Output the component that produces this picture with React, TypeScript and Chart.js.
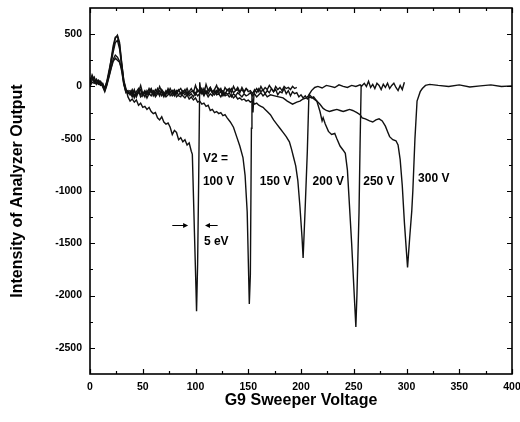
import React, { useEffect, useRef } from "react";
import { Chart, registerables } from "chart.js";

Chart.register(...registerables);

const FONT = '"Liberation Sans", Arial, Helvetica, sans-serif';

// axis ticks
const xTickValues = [0, 50, 100, 150, 200, 250, 300, 350, 400];
const xMinorTicks = [25, 75, 125, 175, 225, 275, 325, 375];
const yTickValues = [500, 0, -500, -1000, -1500, -2000, -2500];
const yMinorTicks = [250, -250, -750, -1250, -1750, -2250];

// series: [G9 sweeper voltage, intensity]
const v100: number[][] = [
  [0, 30], [2, 110], [4, 60], [6, 40], [8, 20], [10, 30], [12, 0], [14, -40], [16, 20], [18, 120],
  [20, 260], [22, 390], [24, 470], [26, 480], [28, 400], [30, 220], [32, 60], [34, -20], [36, -100],
  [38, -140], [40, -120], [42, -150], [44, -130], [46, -180], [48, -160], [50, -200], [52, -190],
  [54, -220], [56, -200], [58, -240], [60, -260], [62, -250], [64, -300], [66, -320], [68, -290],
  [70, -340], [72, -360], [74, -350], [76, -390], [78, -460], [80, -420], [82, -440], [84, -510],
  [86, -490], [88, -530], [90, -510], [92, -560], [94, -540], [96, -620], [97, -650], [99, -1400],
  [100.5, -1950], [101, -2150], [102, -1700], [103, -900], [104, 40], [105, -40], [106, -20],
  [108, -70], [110, 20], [112, -40], [114, -10], [116, -60], [118, -30], [120, 10], [122, -50],
  [124, -20], [126, -70], [128, -10], [130, -40], [132, -20], [134, -60], [136, 0], [138, -40],
  [140, -30], [142, -60], [144, -10], [146, -50], [148, -20], [150, -40],
];

const v150: number[][] = [
  [0, 50], [2, 80], [4, 40], [6, 60], [8, 30], [10, 10], [12, 20], [14, -30], [16, 30], [18, 100],
  [20, 180], [22, 260], [24, 300], [26, 280], [28, 240], [30, 150], [32, 20], [34, -50], [36, -60],
  [38, -70], [40, -30], [42, -90], [44, -50], [46, -20], [48, -80], [50, -60], [52, -100], [54, -40],
  [56, -70], [58, -30], [60, -90], [62, -60], [64, -20], [66, -80], [68, -50], [70, -100], [72, -60],
  [74, -40], [76, -90], [78, -70], [80, -50], [82, -100], [84, -80], [86, -60], [88, -90], [90, -110],
  [92, -80], [94, -120], [96, -100], [98, -130], [100, -110], [102, -150], [104, -140], [106, -170],
  [108, -160], [110, -190], [112, -180], [114, -230], [116, -220], [118, -250], [120, -240],
  [122, -260], [124, -250], [126, -280], [128, -270], [130, -300], [133, -340], [136, -390],
  [139, -480], [142, -570], [145, -680], [147, -850], [149, -1200], [151, -2080], [152, -1800],
  [153, -400], [153.5, -80], [154.5, -250], [155.5, -60], [158, -20], [160, -50], [162, 0],
  [164, -40], [166, -10], [168, -30], [170, 10], [172, -20], [174, -50], [176, 0], [178, -30],
  [180, -10], [182, -40], [184, 0], [186, -20], [188, -10], [190, -30], [192, 0], [194, -20], [196, -10],
];

const v200: number[][] = [
  [0, 20], [2, 60], [4, 90], [6, 30], [8, 50], [10, 20], [12, 30], [14, -20], [16, 40], [18, 130],
  [20, 220], [22, 330], [24, 420], [26, 440], [28, 360], [30, 200], [32, 40], [34, -40], [36, -70],
  [38, -60], [40, -100], [42, -40], [44, -80], [46, -60], [48, -30], [50, -90], [52, -50], [54, -70],
  [56, -20], [58, -60], [60, -40], [62, -80], [64, -50], [66, -90], [68, -30], [70, -60], [72, -80],
  [74, -20], [76, -60], [78, -40], [80, -90], [82, -50], [84, -30], [86, -70], [88, -40], [90, -60],
  [92, -20], [94, -70], [96, -50], [98, -40], [100, -80], [102, -30], [104, -60], [106, -50],
  [108, -90], [110, -40], [112, -70], [114, -30], [116, -60], [118, -80], [120, -40], [122, -70],
  [124, -50], [126, -90], [128, -60], [130, -70], [132, -100], [134, -80], [136, -110], [138, -90],
  [140, -120], [142, -110], [144, -130], [146, -120], [148, -140], [150, -130], [152, -150],
  [154, -140], [156, -170], [158, -160], [160, -180], [162, -190], [164, -200], [166, -220],
  [168, -240], [171, -270], [174, -320], [177, -360], [180, -400], [183, -440], [186, -480],
  [189, -530], [191, -600], [193, -680], [195, -760], [197, -900], [199, -1150], [201, -1450],
  [202, -1640], [204, -1150], [206, -620], [207.5, -80], [210, -40], [213, -10], [216, 0],
  [220, -15], [224, 10], [228, 0], [232, -10], [236, 15], [240, 0], [244, -10], [248, 10],
  [252, 0], [256, 15], [258, 0],
];

const v250: number[][] = [
  [0, 0], [2, 40], [4, 30], [6, 70], [8, 40], [10, 50], [12, 10], [14, -10], [16, 50], [18, 150],
  [20, 250], [22, 360], [24, 460], [26, 490], [28, 420], [30, 230], [32, 50], [34, -30], [36, -50],
  [38, -40], [40, -80], [42, -30], [44, -100], [46, -50], [48, 10], [50, -70], [52, -40], [54, -80],
  [56, -50], [58, -20], [60, -70], [62, -30], [64, -60], [66, 0], [68, -50], [70, -80], [72, -40],
  [74, -70], [76, -20], [78, -60], [80, -30], [82, -70], [84, -40], [86, -20], [88, -60], [90, -30],
  [92, -80], [94, -50], [96, -20], [98, -60], [100, 10], [102, -50], [104, -30], [106, -70],
  [108, -20], [110, -60], [112, -40], [114, -10], [116, -50], [118, -30], [120, -70], [122, -20],
  [124, -50], [126, -40], [128, -80], [130, -30], [132, -50], [134, -20], [136, -60], [138, -40],
  [140, -10], [142, -50], [144, -30], [146, -60], [148, -20], [150, -50], [152, -40], [154, -70],
  [156, -30], [158, -60], [160, -20], [162, -50], [164, -30], [166, -70], [168, -40], [170, -60],
  [172, -20], [174, -50], [176, -30], [178, -80], [180, -50], [182, -60], [184, -20], [186, -70],
  [188, -40], [190, -90], [192, -50], [194, -70], [196, -60], [198, -100], [200, -80], [202, -110],
  [204, -90], [206, -120], [208, -100], [210, -110], [212, -100], [215, -140], [218, -240],
  [220, -330], [221, -300], [223, -360], [226, -430], [229, -460], [232, -450], [234, -500],
  [237, -570], [240, -610], [242, -640], [244, -800], [248, -1500], [251, -2100], [252, -2300],
  [253, -2000], [255, -1200], [256, -550], [257, 0], [258, 10], [260, 30], [262, 0], [264, 50],
  [266, -10], [268, 20], [270, -20], [272, 30], [274, 10], [276, -30], [278, 20], [280, -10],
  [282, 30], [284, -20], [286, 10], [288, 30], [290, -10], [292, -40], [294, 10], [296, -30], [298, 40],
];

const v300: number[][] = [
  [0, 60], [2, 100], [4, 50], [6, 20], [8, 60], [10, 40], [12, 0], [14, -50], [16, 10], [18, 90],
  [20, 170], [22, 240], [24, 270], [26, 250], [28, 230], [30, 170], [32, 30], [34, -60], [36, -40],
  [38, -80], [40, -50], [42, -110], [44, -70], [46, -40], [48, -100], [50, -80], [52, -60], [54, -110],
  [56, -70], [58, -90], [60, -50], [62, -100], [64, -70], [66, -40], [68, -90], [70, -60], [72, -100],
  [74, -80], [76, -50], [78, -90], [80, -70], [82, -40], [84, -90], [86, -100], [88, -60], [90, -80],
  [92, -50], [94, -90], [96, -70], [98, -100], [100, -60], [102, -90], [104, -70], [106, -40],
  [108, -80], [110, -60], [112, -100], [114, -70], [116, -90], [118, -50], [120, -80], [122, -70],
  [124, -100], [126, -60], [128, -90], [130, -80], [132, -60], [134, -100], [136, -70], [138, -90],
  [140, -60], [142, -80], [144, -100], [146, -70], [148, -90], [150, -80], [152, -60], [154, -90],
  [156, -70], [158, -100], [160, -80], [162, -60], [164, -90], [166, -70], [168, -100], [171, -80],
  [175, -90], [179, -100], [183, -110], [187, -140], [192, -170], [196, -150], [199, -140],
  [202, -120], [205, -110], [208, -80], [211, -110], [215, -140], [218, -170], [221, -210],
  [224, -230], [227, -240], [230, -230], [234, -220], [237, -230], [240, -240], [243, -230],
  [246, -220], [249, -230], [253, -250], [256, -270], [258, -300], [261, -310], [265, -330],
  [268, -340], [271, -320], [274, -310], [277, -330], [280, -380], [282, -430], [284, -480],
  [287, -510], [290, -520], [292, -560], [294, -700], [296, -950], [298, -1300], [301, -1730],
  [303, -1450], [305, -1190], [306, -1000], [308, -500], [310, -140], [313, -50], [315, -20],
  [318, 10], [322, 20], [330, 10], [340, 0], [350, 15], [360, -5], [370, 5], [380, 15], [390, 0], [400, 5],
];

const seriesList = [v100, v150, v200, v250, v300];

// annotations (text, anchor in data units)
const noteTexts = ["V2 =", "100 V", "150 V", "200 V", "250 V", "300 V", "5 eV"];
const noteX = [107, 107, 161, 211, 259, 311, 108];
const noteY = [-690, -915, -915, -915, -915, -885, -1480];
// width marker arrows: [from x, to x (arrow tip), y]
const arrows = [
  [78, 93, -1325],
  [121, 109, -1325],
];

const decorPlugin = {
  id: "decor",
  afterDatasetsDraw(chart: any) {
    const { ctx, chartArea: a, scales } = chart;
    const xs = scales.x;
    const ys = scales.y;
    ctx.save();
    ctx.strokeStyle = "#000";
    ctx.fillStyle = "#000";
    ctx.lineWidth = 1.6;
    ctx.strokeRect(a.left, a.top, a.right - a.left, a.bottom - a.top);

    ctx.lineWidth = 1.2;
    ctx.beginPath();
    const xt = (vals: number[], len: number) => {
      vals.forEach((v) => {
        const p = Math.round(xs.getPixelForValue(v)) + 0.5;
        ctx.moveTo(p, a.bottom);
        ctx.lineTo(p, a.bottom - len);
        ctx.moveTo(p, a.top);
        ctx.lineTo(p, a.top + len);
      });
    };
    const yt = (vals: number[], len: number) => {
      vals.forEach((v) => {
        const p = Math.round(ys.getPixelForValue(v)) + 0.5;
        ctx.moveTo(a.left, p);
        ctx.lineTo(a.left + len, p);
        ctx.moveTo(a.right, p);
        ctx.lineTo(a.right - len, p);
      });
    };
    xt(xTickValues, 5);
    xt(xMinorTicks, 3);
    yt(yTickValues, 5);
    yt(yMinorTicks, 3);
    ctx.stroke();

    ctx.font = `bold 12px ${FONT}`;
    ctx.textAlign = "left";
    ctx.textBaseline = "middle";
    noteTexts.forEach((t, i) => {
      ctx.fillText(t, xs.getPixelForValue(noteX[i]), ys.getPixelForValue(noteY[i]));
    });

    ctx.lineWidth = 1;
    arrows.forEach(([x0, x1, yv]) => {
      const p0 = xs.getPixelForValue(x0);
      const p1 = xs.getPixelForValue(x1);
      const py = Math.round(ys.getPixelForValue(yv)) + 0.5;
      const dir = p1 > p0 ? 1 : -1;
      ctx.beginPath();
      ctx.moveTo(p0, py);
      ctx.lineTo(p1 - dir * 3, py);
      ctx.stroke();
      ctx.beginPath();
      ctx.moveTo(p1, py);
      ctx.lineTo(p1 - dir * 5, py - 2.5);
      ctx.lineTo(p1 - dir * 5, py + 2.5);
      ctx.closePath();
      ctx.fill();
    });
    ctx.restore();
  },
};

export default function App() {
  const ref = useRef<HTMLCanvasElement | null>(null);

  useEffect(() => {
    document.body.style.margin = "0";
    const canvas = ref.current;
    if (!canvas) return;
    const tickFont = { family: FONT, size: 10.5, weight: "bold" as const };
    const titleFont = { family: FONT, size: 16, weight: "bold" as const };
    const chart = new Chart(canvas, {
      type: "scatter",
      data: {
        datasets: seriesList.map((s) => ({
          data: s.map(([x, y]) => ({ x, y })),
          showLine: true,
          borderColor: "#111",
          borderWidth: 1.4,
          pointRadius: 0,
          pointHoverRadius: 0,
          tension: 0,
          fill: false,
        })),
      },
      options: {
        animation: false,
        responsive: false,
        maintainAspectRatio: false,
        devicePixelRatio: 1,
        layout: { padding: { left: 0, right: 8, top: 8, bottom: 0 } },
        plugins: {
          legend: { display: false },
          tooltip: { enabled: false },
        },
        events: [],
        scales: {
          x: {
            type: "linear",
            position: "bottom",
            min: 0,
            max: 400,
            grid: { display: false, drawTicks: false },
            border: { display: false },
            ticks: {
              font: tickFont,
              color: "#000",
              padding: 7,
              autoSkip: false,
              maxRotation: 0,
              includeBounds: false,
              callback: (v: any) => String(v),
            },
            afterBuildTicks: (s: any) => {
              s.ticks = xTickValues.map((v) => ({ value: v }));
            },
            afterFit: (s: any) => {
              s.height = 48;
              s.paddingLeft = 0;
              s.paddingRight = 0;
            },
            title: {
              display: true,
              text: "G9 Sweeper Voltage",
              font: titleFont,
              color: "#000",
              padding: { top: 0, bottom: 12 },
            },
          },
          y: {
            type: "linear",
            position: "left",
            min: -2750,
            max: 750,
            grid: { display: false, drawTicks: false },
            border: { display: false },
            ticks: {
              font: tickFont,
              color: "#000",
              padding: 8,
              autoSkip: false,
              includeBounds: false,
              callback: (v: any) => String(v),
            },
            afterBuildTicks: (s: any) => {
              s.ticks = yTickValues.map((v) => ({ value: v }));
            },
            afterFit: (s: any) => {
              s.width = 90;
              s.paddingTop = 0;
              s.paddingBottom = 0;
            },
            title: {
              display: true,
              text: "Intensity of Analyzer Output",
              font: titleFont,
              color: "#000",
              padding: { top: 8, bottom: 0 },
            },
          },
        },
      },
      plugins: [decorPlugin],
    });
    return () => chart.destroy();
  }, []);

  return (
    <div style={{ width: 520, height: 422, background: "#fff" }}>
      <canvas ref={ref} width={520} height={422} style={{ display: "block", width: 520, height: 422 }} />
    </div>
  );
}
